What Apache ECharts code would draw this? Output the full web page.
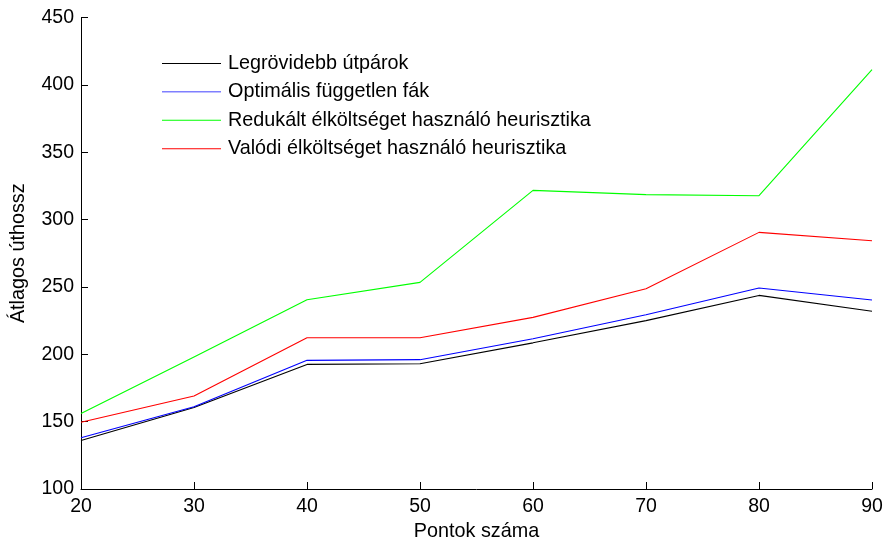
<!DOCTYPE html>
<html><head><meta charset="utf-8">
<script src="https://cdn.jsdelivr.net/npm/echarts@6/dist/echarts.min.js"></script>
<style>html,body{margin:0;padding:0;background:#fff;overflow:hidden}#c{width:885px;height:540px}</style>
</head><body><div id="c"></div>
<script>
var pontok = [20, 30, 40, 50, 60, 70, 80, 90];
var legrovidebb = [136, 160.5, 192.5, 193, 208.5, 225, 243.7, 232];
var optimalis = [138, 161, 195.5, 196, 211.5, 229.4, 249.2, 240.3];
var redukalt = [156, 198, 240.5, 253.4, 321.7, 318.5, 317.7, 411.3];
var valodi = [149.5, 169, 212.3, 212.3, 227.4, 248.7, 290.5, 284.3];
var seriesNames = ['Legrövidebb útpárok', 'Optimális független fák', 'Redukált élköltséget használó heurisztika', 'Valódi élköltséget használó heurisztika'];
var seriesColors = ['#000000', '#0000ff', '#00ff00', '#ff0000'];
var allData = [legrovidebb, optimalis, redukalt, valodi];

function pairs(ys){ return pontok.map(function(x,i){ return [x, ys[i]]; }); }

var font = 'Liberation Sans, Arial, Helvetica, sans-serif';
var chart = echarts.init(document.getElementById('c'), null, {renderer:'canvas'});
chart.setOption({
  backgroundColor: '#fff',
  animation: false,
  color: seriesColors,
  grid: {left: 81, right: 13, top: 17.5, bottom: 51, containLabel: false, outerBoundsMode: 'none'},
  legend: {
    orient: 'vertical', left: 157, top: 48.5, itemWidth: 59, itemHeight: 14, itemGap: 8.4,
    symbolKeepAspect: true,
    data: seriesNames.map(function(n, i){
      return {name: n, icon: 'path://M0,0H100V1.6H0Z', itemStyle: {color: seriesColors[i], borderWidth: 0}};
    }),
    textStyle: {fontFamily: font, fontSize: 19.8, color: '#000', padding: [0,0,0,2]},
    selectedMode: false
  },
  xAxis: {
    type: 'value', min: 20, max: 90, interval: 10,
    name: 'Pontok száma', nameLocation: 'middle', nameGap: 31,
    nameTextStyle: {fontFamily: font, fontSize: 19.8, color: '#000'},
    axisLine: {lineStyle: {color: '#000', width: 1}},
    axisTick: {inside: true, length: 7, lineStyle: {color: '#000'}},
    axisLabel: {fontFamily: font, fontSize: 19.5, color: '#000', margin: 8},
    splitLine: {show: false}
  },
  yAxis: {
    type: 'value', min: 100, max: 450, interval: 50,
    name: 'Átlagos úthossz', nameLocation: 'middle', nameGap: 52,
    nameTextStyle: {fontFamily: font, fontSize: 19.8, color: '#000'},
    axisLine: {show: true, lineStyle: {color: '#000', width: 1}},
    axisTick: {show: true, inside: true, length: 7, lineStyle: {color: '#000'}},
    axisLabel: {fontFamily: font, fontSize: 19.5, color: '#000', margin: 7},
    splitLine: {show: false}
  },
  series: allData.map(function(d,i){
    return {
      name: seriesNames[i], type: 'line', data: pairs(d),
      symbol: 'none', showSymbol: false,
      lineStyle: {color: seriesColors[i], width: 1.1},
      itemStyle: {color: seriesColors[i]}
    };
  })
});
</script>
</body></html>
